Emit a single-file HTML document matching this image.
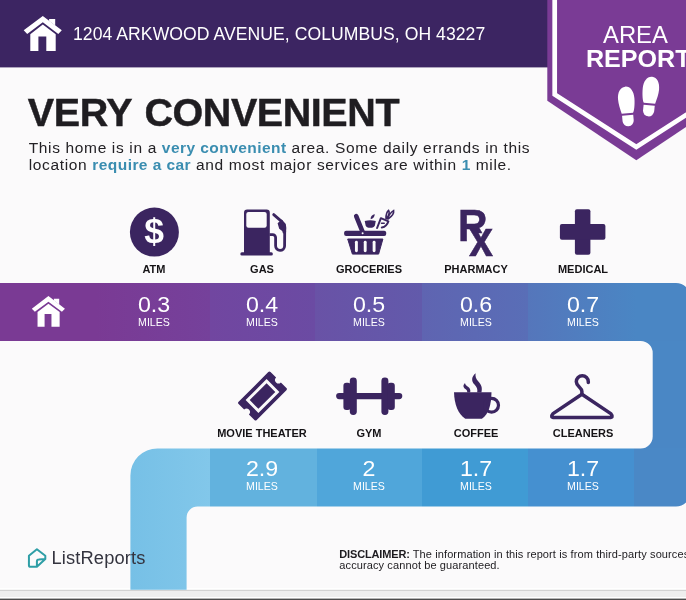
<!DOCTYPE html>
<html lang="en">
<head>
<meta charset="utf-8">
<title>Area Report</title>
<style>
html,body{margin:0;padding:0;}
body{width:686px;height:600px;overflow:hidden;background:#fbfafb;font-family:"Liberation Sans",sans-serif;position:relative;}
#gfx{position:absolute;left:0;top:0;width:686px;height:600px;display:block;}
.t{position:absolute;white-space:nowrap;line-height:1;margin:0;padding:0;}
.addr{left:73px;top:26px;font-size:17.6px;color:#fff;letter-spacing:0.05px;}
.title{left:27.8px;top:93px;font-size:39.5px;font-weight:bold;color:#1f1d21;letter-spacing:-0.43px;word-spacing:2.4px;-webkit-text-stroke:0.45px #1f1d21;}
.para{left:28.7px;font-size:15.5px;color:#232125;letter-spacing:0.65px;}
.para b{color:#3a8db0;letter-spacing:0.44px;}
.lab{font-size:11px;font-weight:bold;color:#151316;transform:translateX(-50%);}
.num{font-size:22.5px;color:#fff;transform:translateX(-50%) scaleX(1.03);}
.mi{font-size:10.6px;color:#fff;transform:translateX(-50%);}
.area{color:#fff;font-size:23px;}
.rx{font-weight:bold;color:#3b2560;-webkit-text-stroke:0.5px #3b2560;}
.logo{left:51.5px;top:549px;font-size:18.3px;color:#34343f;letter-spacing:0.14px;}
.disc{left:339.3px;font-size:11px;color:#1d1b1f;letter-spacing:0.11px;}
.disc b{letter-spacing:-0.15px;}
</style>
</head>
<body>
<svg id="gfx" width="686" height="600" viewBox="0 0 686 600">
  <defs>
    <clipPath id="snake">
      <path d="M0 283 H676 A14.5 14.5 0 0 1 690.5 297.5 V492 A14.5 14.5 0 0 1 676 506.5 H197.6 A11 11 0 0 0 186.6 517.5 V589.8 H130.4 V475.4 A27 27 0 0 1 157.4 448.4 H640.7 A12 12 0 0 0 652.7 436.4 V353 A12 12 0 0 0 640.7 341 H0 Z"/>
    </clipPath>
    <linearGradient id="g5" x1="0" x2="1" y1="0" y2="0">
      <stop offset="0" stop-color="#5576bb"/><stop offset="1" stop-color="#4a86c4"/>
    </linearGradient>

    <linearGradient id="s1" gradientUnits="userSpaceOnUse" x1="96" x2="210" y1="0" y2="0"><stop offset="0" stop-color="#7a3a94"/><stop offset="1" stop-color="#75419b"/></linearGradient>
    <linearGradient id="s2" gradientUnits="userSpaceOnUse" x1="210" x2="315" y1="0" y2="0"><stop offset="0" stop-color="#7146a0"/><stop offset="1" stop-color="#6b4ba3"/></linearGradient>
    <linearGradient id="s3" gradientUnits="userSpaceOnUse" x1="315" x2="422" y1="0" y2="0"><stop offset="0" stop-color="#6952a6"/><stop offset="1" stop-color="#625aab"/></linearGradient>
    <linearGradient id="s4" gradientUnits="userSpaceOnUse" x1="422" x2="528" y1="0" y2="0"><stop offset="0" stop-color="#5f64b1"/><stop offset="1" stop-color="#596eb7"/></linearGradient>
    <linearGradient id="l1" gradientUnits="userSpaceOnUse" x1="130" x2="210" y1="0" y2="0"><stop offset="0" stop-color="#76c0e6"/><stop offset="1" stop-color="#82c7ea"/></linearGradient>
  </defs>
  <!-- bottom strip -->
  <rect x="0" y="588" width="686" height="2" fill="#ffffff"/>
  <rect x="0" y="589.8" width="686" height="1.5" fill="#d2d2d2"/>
  <rect x="0" y="591.3" width="686" height="5.8" fill="#eeeeee"/>
  <rect x="0" y="597.1" width="686" height="1.5" fill="#ffffff"/>
  <rect x="0" y="598.6" width="686" height="1.4" fill="#4c4c4c"/>
  <!-- bands -->
  <g clip-path="url(#snake)">
    <rect x="0" y="283" width="102" height="58" fill="#7a3a94"/>
    <rect x="96" y="283" width="114" height="58" fill="url(#s1)"/>
    <rect x="210" y="283" width="105" height="58" fill="url(#s2)"/>
    <rect x="315" y="283" width="107" height="58" fill="url(#s3)"/>
    <rect x="422" y="283" width="106" height="58" fill="url(#s4)"/>
    <rect x="528" y="283" width="108" height="58" fill="url(#g5)"/>
    <rect x="636" y="283" width="60" height="58" fill="#4a86c4"/>
    <rect x="636" y="341" width="60" height="107" fill="#4a87c5"/>
    <rect x="634" y="448" width="60" height="59" fill="#4a88c6"/>
    <rect x="528" y="448" width="106" height="59" fill="#4590d0"/>
    <rect x="422" y="448" width="106" height="59" fill="#409bd4"/>
    <rect x="317" y="448" width="105" height="59" fill="#50a6da"/>
    <rect x="210" y="448" width="107" height="59" fill="#62b2de"/>
    <rect x="130" y="448" width="80" height="142" fill="url(#l1)"/>
  </g>
  <!-- header -->
  <rect x="0" y="0" width="548" height="67.4" fill="#3c2562"/>
  <!-- banner -->
  <path d="M547.3 0 V100.8 L636.3 160.3 L725.3 100.8 V0 Z" fill="#7a3b95"/>
  <path d="M554.7 0 V94.4 L636.3 147 L717.9 94.4 V0" fill="none" stroke="#fff" stroke-width="4.7"/>
  <!-- header house -->
  <g fill="#fff">
    <path d="M42.8 15.9 L61.8 30.3 L58.3 34 L42.8 22.3 L27.2 34 L23.7 30.3 Z"/>
    <path d="M42.8 24.6 L55.7 34.3 V51 H46.3 V36.4 H38.4 V51 H30.3 V34.3 Z"/>
    <path d="M49.1 18.9 H55.2 V25.5 L49.1 21 Z"/>
  </g>
  <g fill="#fff" transform="translate(11.18 282.27) scale(0.87)">
    <path d="M42.8 15.9 L61.8 30.3 L58.3 34 L42.8 22.3 L27.2 34 L23.7 30.3 Z"/>
    <path d="M42.8 24.6 L55.7 34.3 V51 H46.3 V36.4 H38.4 V51 H30.3 V34.3 Z"/>
    <path d="M49.1 18.9 H55.2 V25.5 L49.1 21 Z"/>
  </g>

  <!-- ICONS row 1 -->
  <g id="icons" fill="#3b2560">
    <!-- ATM -->
    <circle cx="154.4" cy="232.1" r="24.5"/>
    <text x="154.1" y="243.3" font-family="Liberation Sans, sans-serif" font-weight="bold" font-size="35.5" text-anchor="middle" fill="#fff">$</text>
    <!-- GAS -->
    <path d="M244 253.5 V212.7 a3.2 3.2 0 0 1 3.2 -3.2 H266.6 a3.2 3.2 0 0 1 3.2 3.2 V253.5 Z"/>
    <rect x="246.3" y="211.9" width="20.4" height="15.8" rx="2.2" fill="#fbfafb"/>
    <rect x="240.3" y="252.3" width="32.6" height="3.2" rx="1.6"/>
    <path d="M269.5 234.7 H272.7 a2.9 2.9 0 0 1 2.9 2.9 V245.8 a4.5 4.5 0 0 0 9 0.2 L284.7 231" fill="none" stroke="#3b2560" stroke-width="2.8"/>
    <path d="M273.7 214.6 L281.5 221.4" fill="none" stroke="#3b2560" stroke-width="2.8" stroke-linecap="round"/>
    <path d="M277.6 223.2 L281.8 219.6 L285.8 224 Q286.8 228 286 233 L283 233.4 L282.2 231 L279.2 228.8 Z"/>
    <!-- GROCERIES -->
    <rect x="344.1" y="230.7" width="42.1" height="5.3" rx="2"/>
    <path d="M347.7 239 H382.9 L378.6 254.1 H352.4 Z" stroke="#3b2560" stroke-width="1" stroke-linejoin="round"/>
    <g fill="#fbfafb">
      <rect x="354.95" y="240.8" width="2.9" height="11.4" rx="1.45"/>
      <rect x="363.75" y="240.8" width="2.9" height="11.4" rx="1.45"/>
      <rect x="372.65" y="240.8" width="2.9" height="11.4" rx="1.45"/>
    </g>
    <path d="M356.2 216.2 L363 232.8" fill="none" stroke="#3b2560" stroke-width="4.6" stroke-linecap="round"/>
    <circle cx="362.6" cy="233.3" r="1" fill="#fbfafb"/>
    <path d="M364.7 221 Q370.2 219.6 375.8 221 L374.9 225.2 Q374 227.8 370.2 227.8 Q366.4 227.8 365.6 225.2 Z"/>
    <path d="M370.6 219.2 Q370.4 215.5 374.6 214 Q375 218 370.6 219.2 Z"/>
    <path d="M377.1 228 L380.9 218.2 L388.4 221.3 Q386.8 226.6 381.8 227.6" fill="none" stroke="#3b2560" stroke-width="2" stroke-linecap="round" stroke-linejoin="round"/>
    <path d="M381.5 223.2 H384.2 M386 218.6 Q385.8 213 388.6 210.4 Q390.4 213.4 386.6 218.6 M387.4 218.8 Q389.6 213 393.6 210.6 Q394.4 214.6 388 219" fill="none" stroke="#3b2560" stroke-width="1.6" stroke-linecap="round"/>
    <!-- MEDICAL -->
    <rect x="574.9" y="209.3" width="15.5" height="45.5" rx="2"/>
    <rect x="559.9" y="224.1" width="45.5" height="15.7" rx="2"/>
    <!-- MOVIE -->
    <g transform="translate(262.5 396) rotate(-45)">
      <path d="M-21 -12.8 H21 a1.6 1.6 0 0 1 1.6 1.6 V-3.4 a3.4 3.4 0 0 0 0 6.8 V11.2 a1.6 1.6 0 0 1 -1.6 1.6 H-21 a1.6 1.6 0 0 1 -1.6 -1.6 V3.4 a3.4 3.4 0 0 0 0 -6.8 V-11.2 a1.6 1.6 0 0 1 1.6 -1.6 Z"/>
      <rect x="-13.4" y="-7.6" width="26.8" height="15.2" fill="none" stroke="#fbfafb" stroke-width="2.9"/>
    </g>
    <!-- GYM -->
    <rect x="336.1" y="393" width="66.2" height="6.2" rx="3.1"/>
    <rect x="349.8" y="377.5" width="7" height="37.5" rx="3.4"/>
    <rect x="343.4" y="382.7" width="7.4" height="27.3" rx="3"/>
    <rect x="381.4" y="377.5" width="7" height="37.5" rx="3.4"/>
    <rect x="387.4" y="382.7" width="7.4" height="27.3" rx="3"/>
    <!-- COFFEE -->
    <path d="M454 392.2 H491.5 C491.3 404 489 414 481.9 418.7 H465.3 C458 414 454.3 404 454 392.2 Z"/>
    <circle cx="491.6" cy="405.2" r="6.9" fill="none" stroke="#3b2560" stroke-width="3.2"/>
    <path d="M475.6 373.2 C471.5 376.5 471 381 474.5 384.5 C477 387 477.8 389.5 477.2 392.4 H481.4 C482.6 388 481.4 385 478.4 381.6 C475.8 378.8 475.2 376.4 475.6 373.2 Z"/>
    <path d="M465 383 C462.6 385.6 463.2 387.4 465.4 389 C466.8 390 467.4 391 467.2 392.4 H470.2 C470.8 389.8 469.8 388.2 468 386.8 C466.4 385.6 465.2 384.8 465 383 Z"/>
    <!-- CLEANERS -->
    <path d="M581.9 394.2 L553 413.6 Q549.6 417.5 554.6 417.5 H609.2 Q614.2 417.5 610.8 413.6 Z" fill="none" stroke="#3b2560" stroke-width="3.5" stroke-linejoin="round"/>
    <path d="M581.9 393.6 V391.5 C581.9 387.5 576.3 386.5 576.3 381.8 A6 6 0 0 1 588.3 381.8 V382.6" fill="none" stroke="#3b2560" stroke-width="3.5" stroke-linecap="round"/>
  </g>
  <!-- footprints -->
  <g fill="#fff">
    <g transform="translate(626.3 99.8) rotate(-5)">
      <path d="M0 -13.2 C5 -13.2 8.2 -8 8.2 -1 C8.2 6 6.6 13 5.6 13.4 L-5.8 13.4 C-7 8 -8.2 4 -8.2 -1 C-8.2 -8 -5 -13.2 0 -13.2 Z"/>
      <path d="M-5.6 15.4 H5.6 V21 A5.6 5.6 0 0 1 -5.6 21 Z"/>
    </g>
    <g transform="translate(650.8 89.9) rotate(6)">
      <path d="M0 -13.2 C5 -13.2 8.2 -8 8.2 -1 C8.2 4 7 8 5.8 13.4 L-5.6 13.4 C-6.6 13 -8.2 6 -8.2 -1 C-8.2 -8 -5 -13.2 0 -13.2 Z"/>
      <path d="M-5.6 15.4 H5.6 V21 A5.6 5.6 0 0 1 -5.6 21 Z"/>
    </g>
  </g>
  <!-- ListReports logo -->
  <path d="M36.9 549.7 L29.3 555.8 V564.8 a1.5 1.5 0 0 0 1.5 1.5 H36.9 L44.9 558.9 V555.8 Z M36.9 566.3 V561.3 a1.8 1.8 0 0 1 1.8 -1.8 L44.9 558.9" fill="none" stroke="#2e9ea6" stroke-width="1.9" stroke-linejoin="round" transform="translate(36.8 558) scale(1.05) translate(-36.8 -558)"/>
</svg>

<div class="t addr" id="addr">1204 ARKWOOD AVENUE, COLUMBUS, OH 43227</div>
<div class="t area" id="area1" style="left:603.3px;top:24.2px;transform-origin:0 0;transform:scaleX(1.035);">AREA</div>
<div class="t area" id="area2" style="left:586.2px;top:47.8px;font-weight:bold;transform-origin:0 0;transform:scaleX(1.09);">REPORT</div>

<div class="t rx" style="left:457.8px;top:204.6px;font-size:43.5px;transform-origin:0 0;transform:scaleX(0.94);clip-path:polygon(0 0,100% 0,100% 66%,37% 66%,37% 100%,0 100%);">R</div>
<div class="t rx" style="left:468.6px;top:215px;font-size:49.7px;transform-origin:0 0;transform:scaleX(0.87);">x</div>
<div class="t title" id="title">VERY CONVENIENT</div>
<div class="t para" id="p1" style="top:139.9px;">This home is in a <b>very convenient</b> area. Some daily errands in this</div>
<div class="t para" id="p2" style="top:156.9px;">location <b>require a car</b> and most major services are within <b>1</b> mile.</div>

<div class="t lab" style="left:154px;top:264px;">ATM</div>
<div class="t lab" style="left:262px;top:264px;">GAS</div>
<div class="t lab" style="left:369px;top:264px;">GROCERIES</div>
<div class="t lab" style="left:476px;top:264px;">PHARMACY</div>
<div class="t lab" style="left:583px;top:264px;">MEDICAL</div>

<div class="t num" style="left:154px;top:293.7px;">0.3</div><div class="t mi" style="left:154px;top:317.3px;">MILES</div>
<div class="t num" style="left:262px;top:293.7px;">0.4</div><div class="t mi" style="left:262px;top:317.3px;">MILES</div>
<div class="t num" style="left:369px;top:293.7px;">0.5</div><div class="t mi" style="left:369px;top:317.3px;">MILES</div>
<div class="t num" style="left:476px;top:293.7px;">0.6</div><div class="t mi" style="left:476px;top:317.3px;">MILES</div>
<div class="t num" style="left:583px;top:293.7px;">0.7</div><div class="t mi" style="left:583px;top:317.3px;">MILES</div>

<div class="t lab" style="left:262px;top:428px;">MOVIE THEATER</div>
<div class="t lab" style="left:369px;top:428px;">GYM</div>
<div class="t lab" style="left:476px;top:428px;">COFFEE</div>
<div class="t lab" style="left:583px;top:428px;">CLEANERS</div>

<div class="t num" style="left:262px;top:458px;">2.9</div><div class="t mi" style="left:262px;top:481.4px;">MILES</div>
<div class="t num" style="left:369px;top:458px;">2</div><div class="t mi" style="left:369px;top:481.4px;">MILES</div>
<div class="t num" style="left:476px;top:458px;">1.7</div><div class="t mi" style="left:476px;top:481.4px;">MILES</div>
<div class="t num" style="left:583px;top:458px;">1.7</div><div class="t mi" style="left:583px;top:481.4px;">MILES</div>

<div class="t logo" id="logo">ListReports</div>
<div class="t disc" id="d1" style="top:548.7px;"><b>DISCLAIMER:</b> The information in this report is from third-party sources;</div>
<div class="t disc" id="d2" style="top:560.2px;">accuracy cannot be guaranteed.</div>
</body>
</html>
